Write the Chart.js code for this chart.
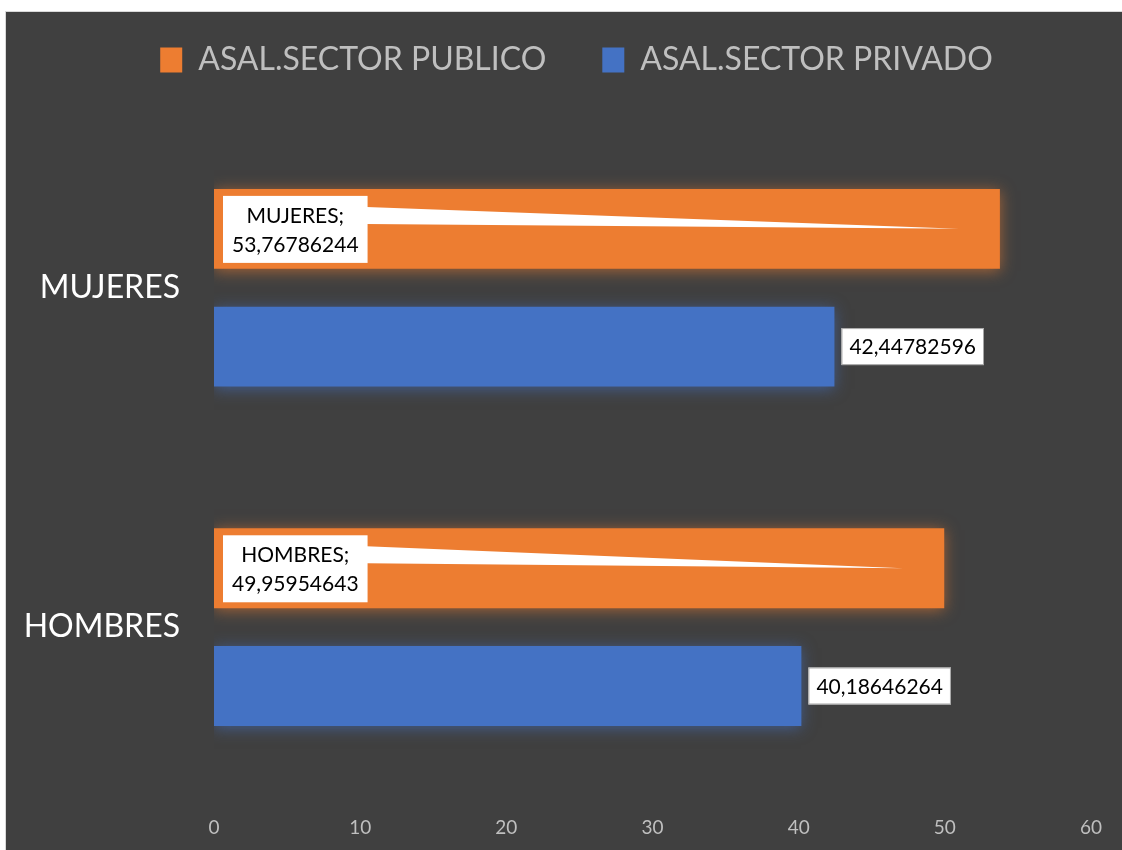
<!DOCTYPE html>
<html lang="es">
<head>
<meta charset="utf-8">
<title>Asalariados por sector</title>
<script src="https://cdn.jsdelivr.net/npm/chart.js@4.4.1/dist/chart.umd.min.js"></script>
<style>
    html, body { margin: 0; padding: 0; background: #ffffff; overflow: hidden; }
    .panel {
        position: absolute;
        left: 5px;
        top: 11px;
        width: 1130px;
        height: 850px;
        background: #404040;
        border-left: 1px solid #d9d9d9;
        border-top: 1px solid #d9d9d9;
        overflow: hidden;
    }
    .panel canvas { position: absolute; left: 0; top: -33px; }
</style>
</head>
<body>
<div class="panel">
    <canvas id="sectorChart" width="1116" height="871"></canvas>
</div>
<script>
// Datos
const categorias = ['MUJERES', 'HOMBRES'];
const sectorPublico = [53.76786244, 49.95954643];
const sectorPrivado = [42.44782596, 40.18646264];
const series = ['ASAL.SECTOR PUBLICO', 'ASAL.SECTOR PRIVADO'];
const ticksX = [0, 10, 20, 30, 40, 50, 60];

const NARANJA = '#ED7D31';
const AZUL = '#4472C4';
const FUENTE = "Lato, 'Open Sans', sans-serif";

// Formato de Excel: coma decimal
const formatoValor = (v) => String(v).replace('.', ',');

// Resplandor suave alrededor de las barras
const resplandor = {
    id: 'resplandor',
    beforeDatasetDraw(chart, args) {
        const ctx = chart.ctx;
        ctx.save();
        ctx.shadowColor = args.index === 0 ? 'rgba(237, 125, 49, 0.6)' : 'rgba(68, 114, 196, 0.6)';
        ctx.shadowBlur = 14;
        ctx.shadowOffsetY = 2;
    },
    afterDatasetDraw(chart) {
        chart.ctx.restore();
    }
};

// Espacio extra bajo la leyenda y leyenda algo desplazada a la derecha
const ajusteLeyenda = {
    id: 'ajusteLeyenda',
    beforeInit(chart) {
        const fitOriginal = chart.legend.fit;
        chart.legend.fit = function fit() {
            fitOriginal.bind(chart.legend)();
            this.height += 32;
        };
    },
    afterLayout(chart) {
        chart.legend.left += 51;
    }
};

// Etiquetas de datos en cajas blancas
const etiquetas = {
    id: 'etiquetas',
    afterDatasetsDraw(chart) {
        const ctx = chart.ctx;
        ctx.save();
        ctx.font = '21px ' + FUENTE;
        ctx.textAlign = 'center';
        ctx.textBaseline = 'middle';

        // Sector público: caja a la izquierda con llamada hacia el extremo de la barra
        chart.getDatasetMeta(0).data.forEach((barra, i) => {
            const lineas = [categorias[i] + ';', formatoValor(sectorPublico[i])];
            const ancho = Math.max(...lineas.map(t => ctx.measureText(t).width)) + 18;
            const alto = 67;
            const x0 = barra.base + 9;
            const y0 = barra.y - barra.height / 2 + 7;

            ctx.fillStyle = '#ffffff';
            ctx.beginPath();
            ctx.moveTo(x0 + ancho - 1, y0 + 11);
            ctx.lineTo(barra.x - 41, barra.y);
            ctx.lineTo(x0 + ancho - 1, y0 + 28);
            ctx.closePath();
            ctx.fill();

            ctx.fillRect(x0, y0, ancho, alto);
            ctx.fillStyle = '#000000';
            ctx.fillText(lineas[0], x0 + ancho / 2, y0 + 20);
            ctx.fillText(lineas[1], x0 + ancho / 2, y0 + 49);
        });

        // Sector privado: caja a la derecha de la barra
        chart.getDatasetMeta(1).data.forEach((barra, i) => {
            const texto = formatoValor(sectorPrivado[i]);
            const ancho = ctx.measureText(texto).width + 16;
            const alto = 37;
            const x0 = barra.x + 7;
            const y0 = barra.y - alto / 2;
            ctx.fillStyle = '#ffffff';
            ctx.fillRect(x0, y0, ancho, alto);
            ctx.strokeStyle = '#a6a6a6';
            ctx.lineWidth = 1;
            ctx.strokeRect(x0 + 0.5, y0 + 0.5, ancho - 1, alto - 1);
            ctx.fillStyle = '#000000';
            ctx.fillText(texto, x0 + ancho / 2, barra.y + 1);
        });
        ctx.restore();
    }
};

new Chart(document.getElementById('sectorChart'), {
    type: 'bar',
    data: {
        labels: categorias,
        datasets: [
            {
                label: series[0],
                data: sectorPublico,
                backgroundColor: NARANJA,
                categoryPercentage: 0.694,
                barPercentage: 0.678
            },
            {
                label: series[1],
                data: sectorPrivado,
                backgroundColor: AZUL,
                categoryPercentage: 0.694,
                barPercentage: 0.678
            }
        ]
    },
    options: {
        indexAxis: 'y',
        responsive: false,
        maintainAspectRatio: false,
        animation: false,
        layout: {
            padding: { left: 0, right: 26, top: 9, bottom: 0 }
        },
        plugins: {
            legend: {
                position: 'top',
                labels: {
                    boxWidth: 22,
                    boxHeight: 25,
                    padding: 56,
                    color: '#bfbfbf',
                    font: { family: FUENTE, size: 32 }
                }
            },
            tooltip: { enabled: false }
        },
        scales: {
            x: {
                min: 0,
                max: 60,
                afterBuildTicks(scale) {
                    scale.ticks = ticksX.map(v => ({ value: v }));
                },
                afterFit(scale) {
                    scale.height = 52;
                },
                grid: { display: false, drawTicks: false },
                border: { display: false },
                ticks: {
                    padding: 20,
                    color: '#bfbfbf',
                    font: { family: FUENTE, size: 19 }
                }
            },
            y: {
                afterFit(scale) {
                    scale.width = 208;
                },
                grid: { display: false, drawTicks: false },
                border: { display: false },
                ticks: {
                    padding: 34,
                    color: '#ffffff',
                    font: { family: FUENTE, size: 32 }
                }
            }
        }
    },
    plugins: [resplandor, ajusteLeyenda, etiquetas]
});
</script>
</body>
</html>
